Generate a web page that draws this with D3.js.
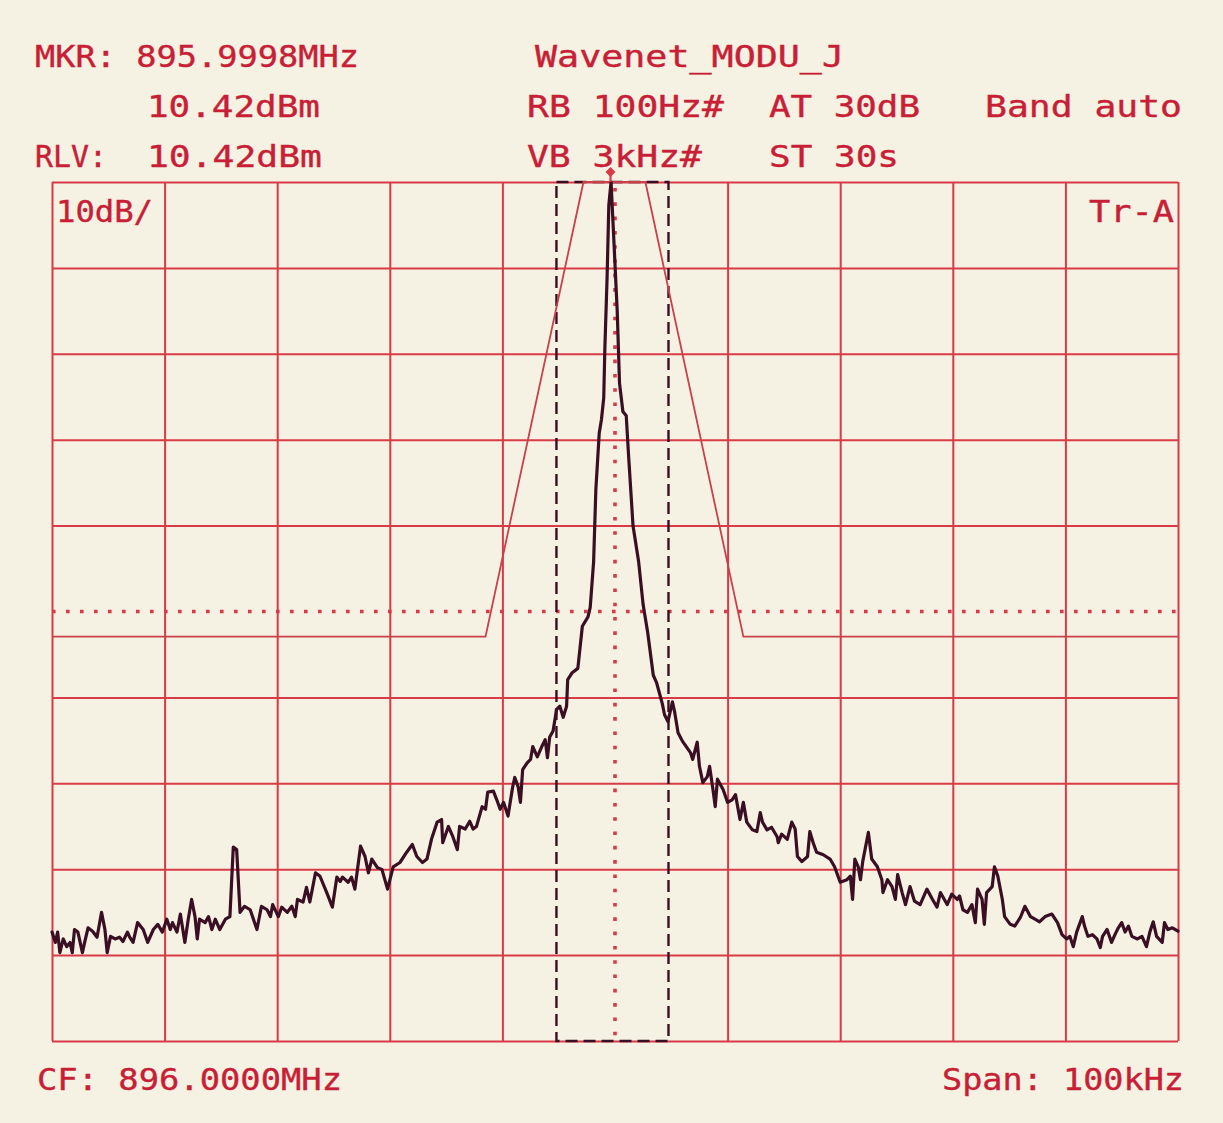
<!DOCTYPE html>
<html>
<head>
<meta charset="utf-8">
<script src="https://cdn.jsdelivr.net/npm/d3@7"></script>
<style>
html,body{margin:0;padding:0;background:#f6f2e3;}
svg{display:block;}
</style>
</head>
<body>
<svg id="chart" width="1223" height="1123"></svg>
<script>
// ---------- data ----------
const centerFreqMHz = 896.0;
const spanKHz = 100;
const refLevelDbm = 10.42;
const dbPerDiv = 10;
// frequency grid lines (the centre 0 kHz division is drawn by the dotted centre line)
const freqGridKHz = [-50, -40, -30, -20, -10, 10, 20, 30, 40, 50];
const centerLineKHz = 0;
// level grid lines (the -39.58 division is drawn by the display line)
const levelGridDbm = [10.42, 0.42, -9.58, -19.58, -29.58, -49.58, -59.58, -69.58, -79.58, -89.58];
const displayLineDbm = -39.58;
const markerFreqKHz = -0.4;
const markerLevelDbm = 10.42;
const channelBandKHz = [-5.2, 4.75];
const maskFreqKHz = [-50, -11.5, -2.8, 2.7, 11.4, 50];
const maskLevelDbm = [-42.5, -42.5, 10.42, 10.42, -42.5, -42.5];

const traceFreqKHz = [
-50.0,-49.7,-49.5,-49.3,-49.0,-48.7,-48.4,-48.2,-48.0,-47.7,-47.3,-47.1,-46.8,-46.4,-46.0,-45.6,-45.3,-45.1,-44.8,-44.4,
-44.0,-43.7,-43.3,-43.1,-42.8,-42.4,-41.9,-41.5,-41.0,-40.6,-40.2,-39.8,-39.5,-39.3,-38.9,-38.6,-38.2,-37.9,-37.6,-37.3,
-37.1,-36.9,-36.4,-36.1,-35.8,-35.5,-35.1,-34.6,-34.2,-33.9,-33.6,-33.3,-32.9,-32.4,-31.8,-31.4,-30.9,-30.6,-30.4,-29.9,
-29.6,-29.1,-28.7,-28.4,-28.2,-27.7,-27.4,-27.1,-26.6,-26.2,-25.6,-25.1,-24.7,-24.4,-24.2,-23.7,-23.4,-23.1,-22.6,-22.2,
-21.9,-21.6,-21.1,-20.7,-20.2,-19.7,-19.1,-18.5,-18.0,-17.6,-17.1,-16.7,-16.3,-15.8,-15.4,-15.3,-14.8,-14.4,-14.0,-13.8,
-13.3,-12.9,-12.6,-12.3,-11.8,-11.5,-11.3,-10.8,-10.5,-10.2,-9.9,-9.5,-9.1,-8.9,-8.6,-8.4,-8.2,-7.8,-7.5,-7.3,
-6.9,-6.5,-6.2,-6.0,-5.8,-5.5,-5.3,-5.2,-4.9,-4.6,-4.3,-4.2,-3.8,-3.3,-2.9,-2.4,-2.2,-1.9,-1.7,-1.4,
-1.2,-1.0,-0.9,-0.7,-0.55,-0.35,-0.1,0.2,0.4,0.7,1.0,1.2,1.6,2.1,2.5,2.9,3.4,3.7,4.2,4.4,
4.7,5.1,5.3,5.6,6.0,6.7,6.9,7.3,7.5,7.8,8.2,8.4,8.7,8.9,9.1,9.6,10.0,10.4,10.7,11.1,
11.4,11.7,12.2,12.6,12.9,13.1,13.5,13.9,14.4,14.5,14.8,15.3,15.7,16.0,16.2,16.6,17.1,17.3,17.6,17.9,
18.5,19.1,19.5,20.0,20.6,20.9,21.1,21.3,21.6,21.8,22.0,22.5,22.8,23.3,23.7,23.8,24.2,24.6,24.9,25.1,
25.5,25.8,26.2,26.6,27.1,27.7,28.2,28.6,28.9,29.5,29.9,30.4,30.6,30.9,31.3,31.7,32.0,32.2,32.6,32.8,
33.0,33.5,33.7,34.0,34.4,34.6,35.1,35.5,36.0,36.4,36.9,37.3,37.7,38.2,38.8,39.3,39.7,40.1,40.4,40.7,
41.0,41.5,41.7,42.0,42.4,42.8,43.1,43.3,43.7,44.1,44.4,44.7,45.0,45.3,45.6,45.9,46.4,46.8,47.2,47.5,
47.8,48.1,48.6,48.8,49.1,49.5,50.0
];
const traceLevelDbm = [
-76.9,-78.1,-76.9,-79.3,-77.7,-78.6,-78.1,-79.3,-76.6,-76.9,-79.3,-78.1,-76.4,-76.8,-77.5,-74.6,-76.6,-79.3,-77.4,-77.7,
-77.5,-78.0,-76.9,-77.5,-78.1,-75.8,-76.6,-78.1,-76.6,-76.0,-76.9,-75.4,-76.6,-75.8,-76.9,-74.8,-78.1,-75.4,-73.1,-75.1,
-77.7,-75.4,-75.8,-75.1,-76.6,-75.4,-76.6,-75.4,-75.1,-67.0,-67.3,-74.6,-73.9,-74.3,-76.6,-73.9,-74.3,-75.1,-73.7,-75.1,
-74.0,-74.6,-73.9,-75.1,-73.1,-73.4,-71.7,-73.4,-70.0,-70.4,-72.3,-74.0,-70.5,-71.0,-70.5,-71.1,-70.5,-71.9,-66.9,-68.1,
-70.0,-68.4,-69.4,-69.6,-71.9,-69.3,-68.8,-67.6,-66.7,-68.1,-68.8,-68.4,-66.1,-64.1,-63.8,-66.5,-64.6,-65.8,-67.3,-64.6,
-64.9,-64.0,-64.9,-64.6,-62.3,-62.6,-60.6,-60.5,-61.5,-62.6,-61.8,-63.4,-60.1,-58.9,-60.0,-61.8,-58.0,-57.2,-56.8,-55.3,
-56.5,-55.3,-54.5,-56.6,-54.2,-53.5,-51.9,-51.0,-50.6,-51.9,-50.6,-47.5,-46.7,-46.2,-41.3,-40.2,-39.1,-33.8,-25.4,-18.8,
-17.2,-14.7,-8.9,-0.6,7.7,10.42,3.6,-4.7,-13.0,-16.3,-16.8,-21.3,-29.6,-33.8,-38.8,-42.0,-47.0,-47.9,-50.3,-51.6,
-52.4,-50.1,-51.3,-53.7,-54.7,-56.0,-56.8,-54.8,-57.6,-59.5,-58.8,-57.6,-60.3,-62.3,-59.1,-60.3,-61.8,-61.5,-60.9,-63.8,
-61.8,-64.1,-65.0,-65.2,-63.0,-64.1,-65.0,-64.7,-65.8,-66.5,-65.5,-66.1,-64.1,-64.9,-68.1,-68.7,-68.1,-65.2,-66.5,-67.6,
-67.9,-68.4,-69.3,-71.1,-70.8,-70.4,-73.1,-68.4,-69.3,-70.8,-68.7,-65.3,-68.4,-69.3,-70.8,-72.3,-70.8,-71.6,-73.1,-70.2,
-72.3,-73.7,-71.6,-73.3,-73.7,-71.9,-73.1,-74.0,-72.3,-73.7,-72.5,-73.1,-72.7,-74.3,-74.6,-73.7,-75.8,-71.9,-73.1,-76.0,
-72.3,-71.6,-69.3,-70.4,-73.1,-75.1,-76.0,-76.2,-75.2,-73.9,-75.1,-75.4,-75.7,-75.1,-74.8,-75.8,-77.2,-77.7,-77.4,-78.6,
-76.9,-75.1,-76.2,-77.4,-77.2,-77.7,-78.7,-77.4,-76.6,-78.1,-77.2,-76.4,-75.8,-76.9,-76.2,-77.4,-77.7,-77.4,-78.6,-76.9,
-75.7,-77.4,-78.1,-75.8,-76.6,-76.4,-76.8
];

// ---------- drawing ----------
const RED = "#d83a48";
const TXT = "#c81e36";
const DARK = "#3a0f24";

const svg = d3.select("#chart");
const gLeft = 52, gRight = 1178, gTop = 182, gBottom = 1041;

const x = d3.scaleLinear().domain([-spanKHz/2, spanKHz/2]).range([gLeft, gRight]);
const y = d3.scaleLinear().domain([refLevelDbm - 10*dbPerDiv, refLevelDbm]).range([gBottom, gTop]);

// grid via axes
const gx = svg.append("g").attr("transform", `translate(0,${gTop})`)
  .call(d3.axisTop(x).tickValues(freqGridKHz).tickSize(-(gBottom - gTop)).tickFormat(""));
gx.select(".domain").remove();
gx.selectAll("line").attr("stroke", RED).attr("stroke-width", 2);

const gy = svg.append("g").attr("transform", `translate(${gLeft},0)`)
  .call(d3.axisLeft(y).tickValues(levelGridDbm).tickSize(-(gRight - gLeft)).tickFormat(""));
gy.select(".domain").remove();
gy.selectAll("line").attr("stroke", RED).attr("stroke-width", 2);

// display line (dotted)
svg.append("line")
  .attr("x1", x(-spanKHz/2)).attr("x2", x(spanKHz/2))
  .attr("y1", y(displayLineDbm)).attr("y2", y(displayLineDbm))
  .attr("stroke", RED).attr("stroke-width", 3.6)
  .attr("stroke-dasharray", "3.6 10.4");

// center frequency dotted line
svg.append("line")
  .attr("x1", x(centerLineKHz)).attr("x2", x(centerLineKHz))
  .attr("y1", y(refLevelDbm) + 6).attr("y2", y(refLevelDbm - 100))
  .attr("stroke", RED).attr("stroke-width", 3.6)
  .attr("stroke-dasharray", "3.6 10.7");

// channel band dashed box
svg.append("rect")
  .attr("x", x(channelBandKHz[0])).attr("y", y(refLevelDbm))
  .attr("width", x(channelBandKHz[1]) - x(channelBandKHz[0]))
  .attr("height", y(refLevelDbm - 100) - y(refLevelDbm))
  .attr("fill", "none").attr("stroke", DARK).attr("stroke-width", 2.4)
  .attr("stroke-dasharray", "12 6");

// mask line
const maskData = maskFreqKHz.map((f, i) => [f, maskLevelDbm[i]]);
svg.append("path")
  .datum(maskData)
  .attr("d", d3.line().x(d => x(d[0])).y(d => y(d[1])))
  .attr("fill", "none").attr("stroke", "#c8404a").attr("stroke-width", 1.8);

// trace
const traceData = traceFreqKHz.map((f, i) => [f, traceLevelDbm[i]]);
svg.append("path")
  .datum(traceData)
  .attr("d", d3.line().x(d => x(d[0])).y(d => y(d[1])))
  .attr("fill", "none").attr("stroke", DARK).attr("stroke-width", 3.2)
  .attr("stroke-linejoin", "round").attr("stroke-linecap", "round");

// marker
const mx = x(markerFreqKHz), my = y(markerLevelDbm);
svg.append("line").attr("x1", mx).attr("x2", mx).attr("y1", my - 8).attr("y2", my)
  .attr("stroke", RED).attr("stroke-width", 2.2);
svg.append("path")
  .attr("d", `M${mx},${my-15} L${mx+5},${my-10} L${mx},${my-5} L${mx-5},${my-10} Z`)
  .attr("fill", RED);

// texts
const labels = [
  {t: "MKR: 895.9998MHz", x: 35, y: 67, w: 324},
  {t: "10.42dBm", x: 147, y: 117, w: 173},
  {t: "RLV:", x: 35, y: 167, w: 72},
  {t: "10.42dBm", x: 147, y: 167, w: 175},
  {t: "Wavenet_MODU_J", x: 535, y: 67, w: 309},
  {t: "RB 100Hz#", x: 527, y: 117, w: 197},
  {t: "AT 30dB", x: 769, y: 117, w: 151},
  {t: "Band auto", x: 985, y: 117, w: 197},
  {t: "VB 3kHz#", x: 527, y: 167, w: 175},
  {t: "ST 30s", x: 769, y: 167, w: 130},
  {t: "10dB/", x: 56, y: 222, w: 97},
  {t: "Tr-A", x: 1089, y: 222, w: 85},
  {t: "CF: 896.0000MHz", x: 37, y: 1090, w: 305},
  {t: "Span: 100kHz", x: 942, y: 1090, w: 242}
];
svg.append("g").selectAll("text").data(labels).join("text")
  .attr("x", d => d.x).attr("y", d => d.y)
  .attr("textLength", d => d.w).attr("lengthAdjust", "spacingAndGlyphs")
  .attr("font-family", "'DejaVu Sans Mono', 'Liberation Mono', monospace")
  .attr("font-size", 30)
  .attr("fill", TXT)
  .attr("stroke", TXT).attr("stroke-width", 0.4)
  .style("white-space", "pre")
  .text(d => d.t);
</script>
</body>
</html>
